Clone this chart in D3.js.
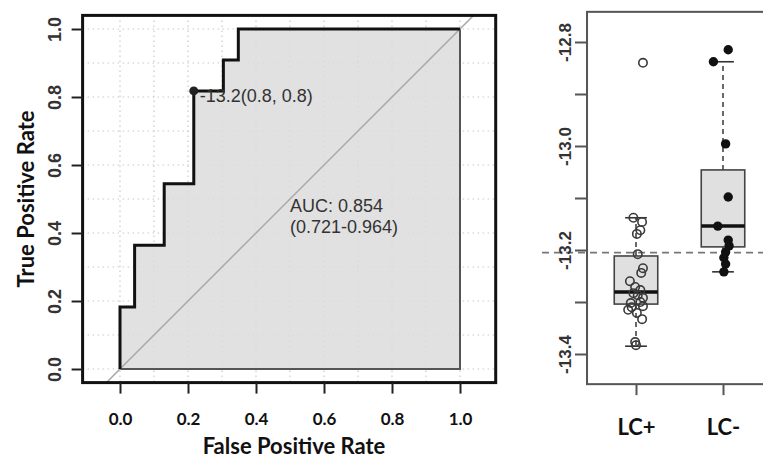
<!DOCTYPE html>
<html>
<head>
<meta charset="utf-8">
<script src="https://d3js.org/d3.v7.min.js"></script>
<style>
body { margin: 0; background: #fff; }
svg { display: block; }
.lab { font-family: Lato, sans-serif; font-weight: bold; fill: #111; }
.num { font-family: "Liberation Sans", Arial, sans-serif; fill: #222; }
</style>
</head>
<body>
<svg id="chart" width="763" height="461"></svg>
<script>
// ROC curve (step points) and the chosen threshold
var fpr = [0, 0, 0.043, 0.130, 0.217, 0.304, 0.348, 1];
var tpr = [0, 0.182, 0.364, 0.545, 0.818, 0.909, 1, 1];
var bestPoint = [0.217, 0.818];
var bestLabel = "-13.2(0.8, 0.8)";
var aucLines = ["AUC: 0.854", "(0.721-0.964)"];
var rocTicks = [0, 0.2, 0.4, 0.6, 0.8, 1.0];

// boxplot groups
var groups = ["LC+", "LC-"];
var lcPos = [-12.840, -13.138, -13.146, -13.162, -13.169, -13.208, -13.235, -13.244, -13.260, -13.271,
             -13.277, -13.283, -13.287, -13.292, -13.300, -13.302, -13.308, -13.310, -13.315, -13.321,
             -13.333, -13.377, -13.383];
var lcPosJitter = [0.08, -0.03, 0.07, 0.05, 0.01, 0.02, 0.08, 0.06, -0.07, -0.01,
                   0.05, -0.03, 0.02, 0.08, 0.05, -0.06, 0.08, -0.05, -0.09, 0.01,
                   0.07, -0.01, 0];
var lcNeg = [-12.815, -12.838, -12.996, -13.098, -13.154, -13.181, -13.192, -13.204, -13.215, -13.227, -13.242];
var lcNegJitter = [0.06, -0.11, 0.03, 0.06, -0.06, 0.06, 0.07, 0.03, 0.01, 0.03, 0.01];
// whisker low, q1, median, q3, whisker high
var boxStats = [
  [-13.385, -13.304, -13.281, -13.2115, -13.138],
  [-13.242, -13.194, -13.154, -13.046, -12.838]
];
var cutoff = -13.205;
var boxTicks = [-12.8, -12.9, -13.0, -13.1, -13.2, -13.3, -13.4];

var svg = d3.select("#chart");

// ---------- ROC panel ----------
var x = d3.scaleLinear().domain([0, 1]).range([120, 460]);
var y = d3.scaleLinear().domain([0, 1]).range([369, 29]);
var xlim = [-0.11, 1.105], ylim = [-0.04, 1.04];

svg.append("clipPath").attr("id", "rocclip")
  .append("rect")
  .attr("x", x(xlim[0])).attr("y", y(ylim[1]))
  .attr("width", x(xlim[1]) - x(xlim[0])).attr("height", y(ylim[0]) - y(ylim[1]));

var roc = svg.append("g");
var grid = d3.range(0, 1.01, 0.1);

roc.selectAll(".vg").data(grid).enter().append("line")
  .attr("x1", d => x(d)).attr("x2", d => x(d))
  .attr("y1", y(ylim[1])).attr("y2", y(ylim[0]))
  .attr("stroke", "#c8c8c8").attr("stroke-width", 1.2).attr("stroke-dasharray", "1.5,3.5");
roc.selectAll(".hg").data(grid).enter().append("line")
  .attr("y1", d => y(d)).attr("y2", d => y(d))
  .attr("x1", x(xlim[0])).attr("x2", x(xlim[1]))
  .attr("stroke", "#c8c8c8").attr("stroke-width", 1.2).attr("stroke-dasharray", "1.5,3.5");

var pts = fpr.map((f, i) => [f, tpr[i]]);

roc.append("path").datum(pts)
  .attr("d", d3.area().curve(d3.curveStepAfter).x(d => x(d[0])).y0(y(0)).y1(d => y(d[1])))
  .attr("fill", "#dcdcdc").attr("fill-opacity", 0.85);

roc.append("path")
  .attr("d", d3.line()([[x(1), y(1)], [x(1), y(0)], [x(0), y(0)]]))
  .attr("fill", "none").attr("stroke", "#555").attr("stroke-width", 2);

roc.append("line")
  .attr("clip-path", "url(#rocclip)")
  .attr("x1", x(-0.2)).attr("y1", y(-0.2)).attr("x2", x(1.2)).attr("y2", y(1.2))
  .attr("stroke", "#a8a8a8").attr("stroke-width", 1.5);

roc.append("path").datum(pts)
  .attr("d", d3.line().curve(d3.curveStepAfter).x(d => x(d[0])).y(d => y(d[1])))
  .attr("fill", "none").attr("stroke", "#111").attr("stroke-width", 3);

roc.append("circle")
  .attr("cx", x(bestPoint[0])).attr("cy", y(bestPoint[1])).attr("r", 4.5).attr("fill", "#222");
roc.append("text").attr("class", "num")
  .attr("x", x(bestPoint[0]) + 6).attr("y", y(bestPoint[1]) + 11)
  .style("font-size", "18px").style("fill", "#333")
  .text(bestLabel);

roc.selectAll(".auc").data(aucLines).enter().append("text").attr("class", "num")
  .attr("x", x(0.5)).attr("y", (d, i) => y(0.48) + i * 21 + 6)
  .style("font-size", "18px").style("fill", "#333")
  .text(d => d);

// frame
roc.append("rect")
  .attr("x", x(xlim[0])).attr("y", y(ylim[1]))
  .attr("width", x(xlim[1]) - x(xlim[0])).attr("height", y(ylim[0]) - y(ylim[1]))
  .attr("fill", "none").attr("stroke", "#111").attr("stroke-width", 3);

// axes
var xAxis = roc.append("g").attr("transform", "translate(0," + y(ylim[0]) + ")")
  .call(d3.axisBottom(x).tickValues(rocTicks).tickSize(11).tickFormat(d3.format(".1f")));
xAxis.select(".domain").remove();
xAxis.selectAll("line").attr("stroke", "#222").attr("stroke-width", 2);
xAxis.selectAll("text").attr("class", "lab").attr("dy", null).attr("y", 42)
  .style("font-size", "17px");

var yAxis = roc.append("g").attr("transform", "translate(" + x(xlim[0]) + ",0)")
  .call(d3.axisLeft(y).tickValues(rocTicks).tickSize(11).tickFormat(d3.format(".1f")));
yAxis.select(".domain").remove();
yAxis.selectAll("line").attr("stroke", "#222").attr("stroke-width", 2);
yAxis.selectAll("text").attr("class", "num")
  .attr("x", null).attr("dy", null)
  .attr("transform", "translate(-28,0) rotate(-90)")
  .attr("y", 6)
  .style("text-anchor", "middle").style("font-size", "18px").style("font-weight", "bold")
  .style("fill", "#333");

roc.append("text").attr("class", "lab")
  .attr("x", 294).attr("y", 454).style("text-anchor", "middle").style("font-size", "22px")
  .text("False Positive Rate");
roc.append("text").attr("class", "lab")
  .attr("transform", "translate(34,199) rotate(-90)")
  .style("text-anchor", "middle").style("font-size", "22px")
  .text("True Positive Rate");

// ---------- boxplot panel ----------
var bx = d3.scaleLinear().domain([1, 2]).range([636, 723]);
var by = d3.scaleLinear().domain([-12.8, -13.4]).range([42, 354]);
var bxlim = [0.437, 2.56], bylim = [-12.742, -13.458];
var boxW = 0.5;

var bp = svg.append("g");

bp.append("line")
  .attr("x1", bx(-0.08)).attr("x2", bx(bxlim[1]))
  .attr("y1", by(cutoff)).attr("y2", by(cutoff))
  .attr("stroke", "#777").attr("stroke-width", 1.6).attr("stroke-dasharray", "7,5");

boxStats.forEach(function(s, i) {
  var c = i + 1;
  var g = bp.append("g");
  // whiskers
  g.append("line").attr("x1", bx(c)).attr("x2", bx(c)).attr("y1", by(s[3])).attr("y2", by(s[4]))
    .attr("stroke", "#444").attr("stroke-width", 1.6).attr("stroke-dasharray", "5,4");
  g.append("line").attr("x1", bx(c)).attr("x2", bx(c)).attr("y1", by(s[1])).attr("y2", by(s[0]))
    .attr("stroke", "#444").attr("stroke-width", 1.6).attr("stroke-dasharray", "5,4");
  [s[0], s[4]].forEach(function(v) {
    g.append("line").attr("x1", bx(c - boxW / 4)).attr("x2", bx(c + boxW / 4))
      .attr("y1", by(v)).attr("y2", by(v)).attr("stroke", "#333").attr("stroke-width", 1.6);
  });
  g.append("rect")
    .attr("x", bx(c - boxW / 2)).attr("width", bx(c + boxW / 2) - bx(c - boxW / 2))
    .attr("y", by(s[3])).attr("height", by(s[1]) - by(s[3]))
    .attr("fill", "#e0e0e0").attr("stroke", "#444").attr("stroke-width", 1.6);
  g.append("line").attr("x1", bx(c - boxW / 2)).attr("x2", bx(c + boxW / 2))
    .attr("y1", by(s[2])).attr("y2", by(s[2])).attr("stroke", "#111").attr("stroke-width", 3.5);
});

// jittered points
bp.selectAll(".pos").data(lcPos).enter().append("circle")
  .attr("cx", (d, i) => bx(1 + lcPosJitter[i])).attr("cy", d => by(d)).attr("r", 4.2)
  .attr("fill", "none").attr("stroke", "#3a3a3a").attr("stroke-width", 1.6);
bp.selectAll(".neg").data(lcNeg).enter().append("circle")
  .attr("cx", (d, i) => bx(2 + lcNegJitter[i])).attr("cy", d => by(d)).attr("r", 4.7)
  .attr("fill", "#111");

// frame
bp.append("rect")
  .attr("x", bx(bxlim[0])).attr("y", by(bylim[0]))
  .attr("width", bx(bxlim[1]) - bx(bxlim[0])).attr("height", by(bylim[1]) - by(bylim[0]))
  .attr("fill", "none").attr("stroke", "#555").attr("stroke-width", 2);

var byAxis = bp.append("g").attr("transform", "translate(" + bx(bxlim[0]) + ",0)")
  .call(d3.axisLeft(by).tickValues(boxTicks).tickSize(12)
    .tickFormat(d => (Math.round(d * 10) % 2 === 0) ? d.toFixed(1) : ""));
byAxis.select(".domain").remove();
byAxis.selectAll("line").attr("stroke", "#555").attr("stroke-width", 2);
byAxis.selectAll("text").attr("class", "num")
  .attr("x", null).attr("dy", null)
  .attr("transform", "translate(-22,0) rotate(-90)")
  .attr("y", 6)
  .style("text-anchor", "middle").style("font-size", "17px").style("font-weight", "bold")
  .style("fill", "#333");

var bxAxis = bp.append("g").attr("transform", "translate(0," + by(bylim[1]) + ")")
  .call(d3.axisBottom(bx).tickValues([1, 2]).tickSize(11).tickFormat((d, i) => groups[i]));
bxAxis.select(".domain").remove();
bxAxis.selectAll("line").attr("stroke", "#555").attr("stroke-width", 2);
bxAxis.selectAll("text").attr("class", "lab").attr("dy", null).attr("y", 51)
  .style("font-size", "22px");
</script>
</body>
</html>
